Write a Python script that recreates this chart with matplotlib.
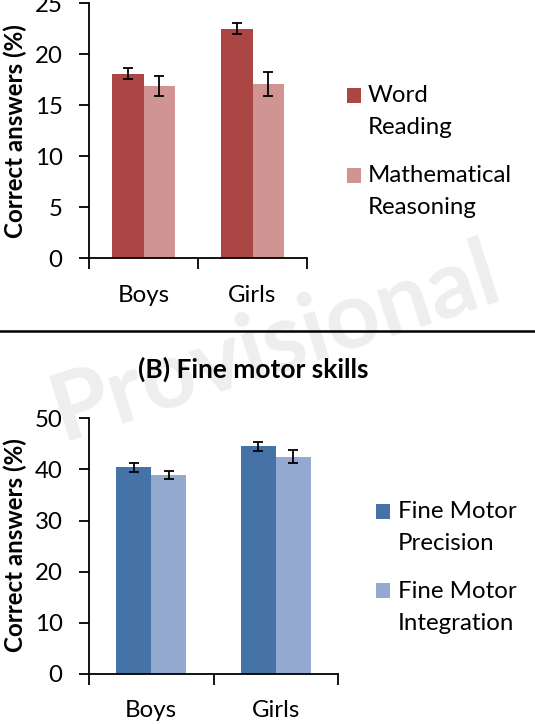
import matplotlib
matplotlib.use("Agg")
import matplotlib.pyplot as plt
from matplotlib.patches import Rectangle
from matplotlib.lines import Line2D
import numpy as np

plt.rcParams['font.family'] = ['Lato', 'DejaVu Sans']

# ---------------- data ----------------
groups = ["Boys", "Girls"]

a_series = ["Word\nReading", "Mathematical\nReasoning"]
a_values = [[18.1, 22.5], [16.9, 17.1]]
a_errors = [[0.55, 0.52], [0.95, 1.15]]
a_colors = ["#AA4643", "#D09493"]
a_yticks = [0, 5, 10, 15, 20, 25]

b_title = "(B) Fine motor skills"
b_series = ["Fine Motor\nPrecision", "Fine Motor\nIntegration"]
b_values = [[40.4, 44.5], [39.0, 42.5]]
b_errors = [[0.88, 0.95], [0.78, 1.3]]
b_colors = ["#4572A7", "#93A9CF"]
b_yticks = [0, 10, 20, 30, 40, 50]

ylabel = "Correct answers (%)"
watermark = "Provisional"

# ---------------- layout ----------------
W, H = 535, 724
fig = plt.figure(figsize=(W / 100, H / 100), dpi=100)

def px_rect(x0, x1, ytop, ybot):
    return [x0 / W, 1 - ybot / H, (x1 - x0) / W, (ybot - ytop) / H]

FS = 17.3

def draw_panel(rect, series, values, errors, colors, yticks, width):
    ax = fig.add_axes(rect)
    ax.patch.set_alpha(0)
    x = np.arange(len(groups))
    n = len(series)
    for i in range(n):
        off = (i - (n - 1) / 2) * width
        ax.bar(x + off, values[i], width, color=colors[i], zorder=2)
        ax.errorbar(x + off, values[i], yerr=errors[i], fmt='none',
                    ecolor='black', elinewidth=1.3, capsize=3.5,
                    capthick=1.3, zorder=3)
    ax.set_xlim(-0.5, len(groups) - 0.5)
    ax.set_ylim(yticks[0], yticks[-1])
    ax.set_yticks(yticks)
    ax.set_xticks(x)
    ax.set_xticklabels(groups)
    ax.set_xticks(np.arange(len(groups) + 1) - 0.5, minor=True)
    ax.tick_params(axis='x', which='major', length=0, pad=19, labelsize=FS)
    ax.tick_params(axis='x', which='minor', length=8, width=1.3, direction='out')
    ax.tick_params(axis='y', length=7, width=1.3, direction='out', pad=12,
                   labelsize=FS)
    for s in ['top', 'right']:
        ax.spines[s].set_visible(False)
    for s in ['left', 'bottom']:
        ax.spines[s].set_linewidth(1.3)
    return ax

def draw_legend(series, colors, x_sq, x_txt, y_centers, line_gap=32):
    for name, c, yc in zip(series, colors, y_centers):
        fig.add_artist(Rectangle((x_sq / W, 1 - (yc + 7.5) / H), 14 / W, 15 / H,
                                 transform=fig.transFigure, facecolor=c,
                                 edgecolor='none'))
        for k, line in enumerate(name.split("\n")):
            fig.text(x_txt / W, 1 - (yc + 1 + k * line_gap) / H, line,
                     ha='left', va='center', fontsize=FS)

# Watermark (behind everything)
fig.text(275 / W, 1 - 343 / H, watermark, rotation=18, ha='center', va='center',
         fontsize=68, fontweight='bold', color='#eeeeee', zorder=-5)

axA = draw_panel(px_rect(89, 307, 3.3, 258.3), a_series, a_values, a_errors,
                 a_colors, a_yticks, 0.29)
axB = draw_panel(px_rect(89, 338, 418.3, 674), b_series, b_values, b_errors,
                 b_colors, b_yticks, 0.28)

fig.text(15 / W, 1 - 131 / H, ylabel, rotation=90, ha='center', va='center',
         fontsize=17.4, fontweight='bold')
fig.text(15 / W, 1 - 545 / H, ylabel, rotation=90, ha='center', va='center',
         fontsize=17.4, fontweight='bold')

draw_legend(a_series, a_colors, 347, 368, [95, 175])
draw_legend(b_series, b_colors, 376, 398, [511, 590])

fig.text(253 / W, 1 - 369 / H, b_title, ha='center', va='center',
         fontsize=19, fontweight='bold')

fig.add_artist(Line2D([0, 1], [1 - 331 / H, 1 - 331 / H], transform=fig.transFigure,
                      color='black', linewidth=1.8))

fig.savefig("out.png", dpi=100)
